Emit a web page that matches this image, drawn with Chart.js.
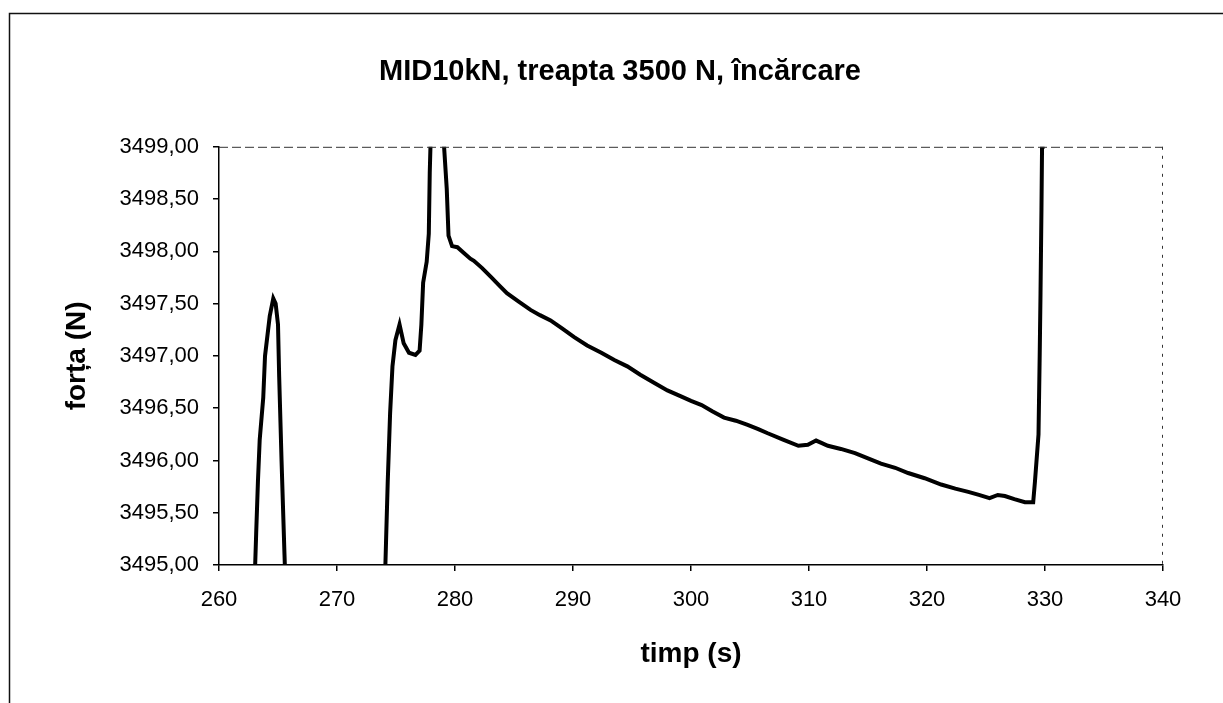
<!DOCTYPE html>
<html>
<head>
<meta charset="utf-8">
<title>MID10kN, treapta 3500 N, încărcare</title>
<script src="https://cdn.jsdelivr.net/npm/chart.js@4/dist/chart.umd.min.js"></script>
<style>
  html, body { margin: 0; padding: 0; background: #fff; }
  #wrap { width: 1223px; height: 703px; }
</style>
</head>
<body>
<div id="wrap"><canvas id="chart" width="1223" height="703"></canvas></div>
<script>
'use strict';

// timp (s); values outside 3495..3499 are clipped by the axes
const timeValues = [
  262.95, 263.15, 263.3, 263.45, 263.75, 263.9, 264.3, 264.6, 264.8, 265.0, 265.1, 265.3, 265.55, 265.7,
  274.0, 274.15, 274.3, 274.5, 274.7, 274.95, 275.3, 275.65, 276.1, 276.65, 277.0, 277.15, 277.3, 277.6,
  277.78, 277.86, 277.92, 277.97, 278.85, 279.3, 279.45, 279.75,
  280.2, 280.8, 281.3, 281.6, 282.3, 283.0, 283.7, 284.4, 285.4, 286.4, 287.2, 288.1, 289.1, 290.1,
  291.2, 292.4, 293.5, 294.6, 295.7, 296.9, 298.0, 299.2, 300.0, 300.9, 301.8, 302.8, 303.8, 304.8,
  305.7, 306.5, 307.8, 309.1, 309.9, 310.6, 311.0, 311.6, 312.7, 313.9, 315.0, 316.1, 317.3, 318.4,
  319.8, 321.2, 322.4, 323.5, 324.4, 325.3, 326.0, 326.6, 327.4, 328.3, 329.0, 329.15, 329.45, 329.55,
  329.62, 329.7, 329.75, 329.8
];

// forța (N)
const forceValues = [
  3494.6, 3495.3, 3495.8, 3496.2, 3496.6, 3497.0, 3497.38, 3497.55, 3497.5, 3497.3, 3496.8, 3496.0, 3495.1, 3494.6,
  3494.6, 3495.2, 3495.8, 3496.45, 3496.9, 3497.15, 3497.3, 3497.12, 3497.03, 3497.01, 3497.05, 3497.3, 3497.7, 3497.9,
  3498.17, 3498.75, 3499.0, 3499.4, 3499.4, 3498.6, 3498.15, 3498.05,
  3498.04, 3497.98, 3497.93, 3497.91, 3497.84, 3497.76, 3497.68, 3497.60, 3497.52, 3497.44, 3497.39, 3497.34, 3497.26, 3497.18,
  3497.10, 3497.03, 3496.96, 3496.90, 3496.82, 3496.74, 3496.67, 3496.61, 3496.57, 3496.53, 3496.47, 3496.41, 3496.38, 3496.34,
  3496.30, 3496.26, 3496.20, 3496.14, 3496.15, 3496.19, 3496.17, 3496.14, 3496.11, 3496.07, 3496.02, 3495.97, 3495.93, 3495.88,
  3495.83, 3495.77, 3495.73, 3495.70, 3495.67, 3495.64, 3495.67, 3495.66, 3495.63, 3495.60, 3495.60, 3495.80, 3496.25, 3497.0,
  3497.6, 3498.4, 3499.0, 3499.4
];

const xTicks = [260, 270, 280, 290, 300, 310, 320, 330, 340];
const yTicks = [3495, 3495.5, 3496, 3496.5, 3497, 3497.5, 3498, 3498.5, 3499];

const FONT = "'Liberation Sans', Arial, sans-serif";

// outer frame + thin dashed top/right edges of the plot area
const frame = {
  id: 'frame',
  afterDraw(chart) {
    const c = chart.ctx, a = chart.chartArea;
    c.save();
    c.strokeStyle = '#111';
    c.lineWidth = 1.5;
    c.beginPath();
    c.moveTo(9.5, 703); c.lineTo(9.5, 13.5); c.lineTo(1223, 13.5);
    c.stroke();
    c.strokeStyle = '#333';
    c.lineWidth = 1;
    c.setLineDash([9, 4]);
    c.beginPath();
    c.moveTo(a.left, a.top + 0.5); c.lineTo(a.right, a.top + 0.5);
    c.stroke();
    c.setLineDash([3, 6]);
    c.beginPath();
    c.moveTo(a.right - 0.5, a.top); c.lineTo(a.right - 0.5, a.bottom);
    c.stroke();
    c.restore();
  },
};

new Chart(document.getElementById('chart'), {
  type: 'line',
  data: {
    datasets: [{
      data: timeValues.map((t, i) => ({ x: t, y: forceValues[i] })),
      borderColor: '#000',
      borderWidth: 4,
      pointRadius: 0,
      tension: 0,
      fill: false,
      clip: 0,
    }],
  },
  options: {
    responsive: false,
    animation: false,
    events: [],
    layout: { padding: { left: 17, right: 0, top: 0, bottom: 0 } },
    plugins: {
      legend: { display: false },
      tooltip: { enabled: false },
      title: {
        display: true,
        text: 'MID10kN, treapta 3500 N, încărcare',
        color: '#000',
        font: { family: FONT, size: 29, weight: 'bold' },
        padding: { top: 55, bottom: 57 },
      },
    },
    scales: {
      x: {
        type: 'linear',
        min: xTicks[0],
        max: xTicks[xTicks.length - 1],
        afterFit(s) { s.height = 138; },
        afterBuildTicks(s) { s.ticks = xTicks.map(v => ({ value: v })); },
        ticks: { color: '#000', padding: 16, maxRotation: 0, font: { family: FONT, size: 22 } },
        grid: { drawOnChartArea: false, drawTicks: true, tickLength: 6, color: '#000', lineWidth: 1.5 },
        border: { display: true, color: '#000', width: 1.5 },
        title: {
          display: true,
          text: 'timp (s)',
          color: '#000',
          font: { family: FONT, size: 28, weight: 'bold' },
          padding: { top: 0, bottom: 32 },
        },
      },
      y: {
        min: yTicks[0],
        max: yTicks[yTicks.length - 1],
        afterFit(s) { s.width = 202; },
        afterBuildTicks(s) { s.ticks = yTicks.map(v => ({ value: v })); },
        ticks: {
          color: '#000',
          padding: 14,
          font: { family: FONT, size: 22 },
          callback: v => v.toFixed(2).replace('.', ','),
        },
        grid: { drawOnChartArea: false, drawTicks: true, tickLength: 6, color: '#000', lineWidth: 1.5 },
        border: { display: true, color: '#000', width: 1.5 },
        title: {
          display: true,
          text: 'forța (N)',
          color: '#000',
          font: { family: FONT, size: 28, weight: 'bold' },
          padding: { top: 43, bottom: 0 },
        },
      },
      y2: {
        position: 'right',
        display: true,
        afterFit(s) { s.width = 60; },
        ticks: { display: false },
        grid: { display: false, drawTicks: false },
        border: { display: false },
      },
    },
  },
  plugins: [frame],
});
</script>
</body>
</html>
